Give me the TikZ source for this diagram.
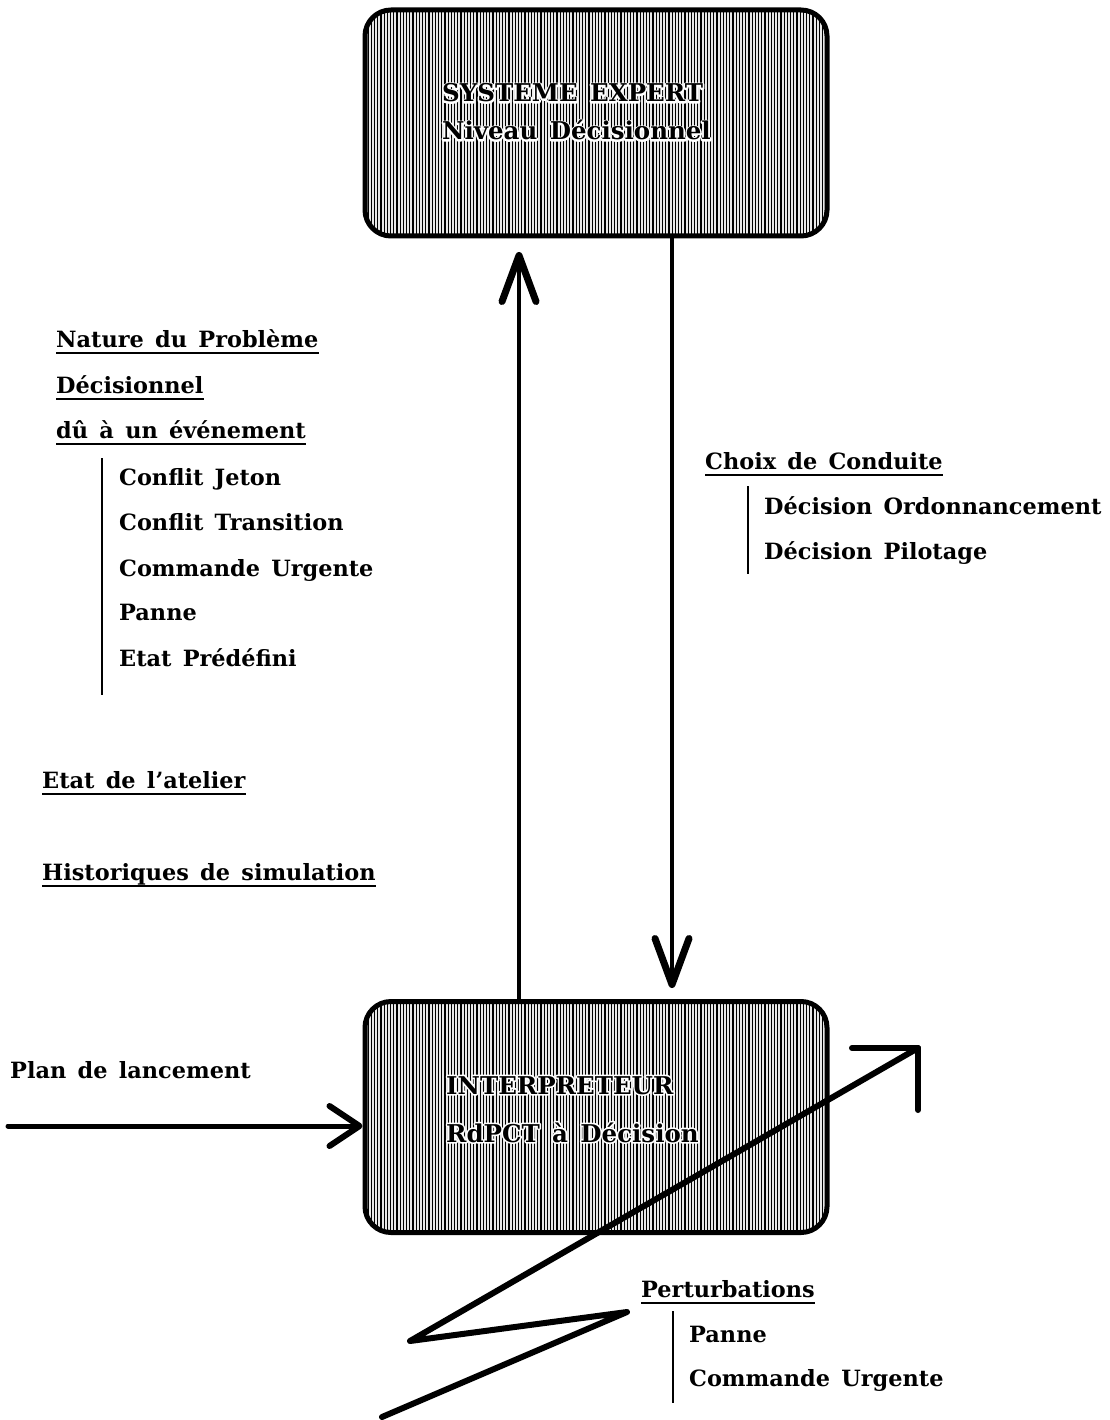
\documentclass[tikz,border=0pt]{standalone}
\usepackage{fontspec}
\setmainfont{DejaVu Serif}[WordSpace=1.45]
\usetikzlibrary{arrows.meta}

% glyph outlines stroked thickly in white: the halo laid under box titles
\newcommand\halo[1]{%
  \special{pdf:literal direct 1 Tr 3.2 w 1 j 1 1 1 RG}#1%
  \special{pdf:literal direct 0 Tr 0 G}}
% a box title: white halo first, then the black text over it
\newcommand\boxtitle[3]{%
  \node[boxtxt, anchor=base west] at (#2) {\halo{#3}};
  \node[boxtxt, anchor=base west] (#1) at (#2) {#3};}

\begin{document}
\begin{tikzpicture}[x=1pt, y=-1pt,
  lbl/.style={inner sep=0pt, font=\fontsize{22.4}{26}\selectfont\bfseries},
  boxtxt/.style={inner sep=0pt, font=\fontsize{24.5}{28}\selectfont\bfseries},
  uline/.style={line width=2.6pt},
  bar/.style={line width=1.8pt},
  hatchbox/.style={draw, line width=5pt, rounded corners=26pt, fill=gray!18,
    minimum width=462pt, minimum height=226pt, inner sep=0pt,
    path picture={
      \foreach \i in {0,...,150}
        \draw[line width=1.2pt]
          ([xshift=\i*3.2pt]path picture bounding box.south west) --
          ([xshift=\i*3.2pt]path picture bounding box.north west);}},
  shaft/.style={line width=4pt},
  vtip/.style={-{Straight Barb[length=46pt, width=34pt, line width=7pt, round]}},
  htip/.style={-{Straight Barb[length=30pt, width=40pt, line width=6pt, round]}},
  zig/.style={line width=6pt, line cap=round, line join=round}]

\useasboundingbox (0,0) rectangle (1109,1420);

% the two processing blocks
\node[hatchbox] (expert) at (596,123) {};
\node[hatchbox, minimum height=231pt] (interp) at (596,1117) {};

\boxtitle{t1}{442,102}{SYSTEME EXPERT}
\boxtitle{t2}{442,140}{Niveau Décisionnel}
\boxtitle{t3}{446,1094}{INTERPRETEUR}
\boxtitle{t4}{446,1142}{RdPCT à Décision}

% exchanges between the blocks
\coordinate (up) at (519,252);
\coordinate (dn) at (672,988);
\draw[shaft, vtip] (interp.north -| up) -- (up);
\draw[shaft, vtip] (expert.south -| dn) -- (dn);

% launch plan input
\coordinate (plan) at (8,1126);
\draw[line width=5pt, line cap=round, htip] (plan) -- (interp.west |- plan);
\node[lbl, anchor=base west] (pl) at (10,1078) {Plan de lancement};

% disturbance flash
\coordinate (z0) at (382,1417);
\coordinate (z1) at (627,1312);
\coordinate (z2) at (410,1341);
\coordinate (z3) at (918,1048);
\draw[zig] (z0) -- (z1) -- (z2) -- (z3);
\draw[zig] ([xshift=-66pt]z3) -- (z3) -- ([yshift=-62pt]z3);

% left-hand annotations
\node[lbl, anchor=base west] (a1) at (56,347) {Nature du Problème};
\node[lbl, anchor=base west] (a2) at (56,393) {Décisionnel};
\node[lbl, anchor=base west] (a3) at (56,438) {dû à un événement};
\foreach \n in {a1,a2,a3}
  \draw[uline] ([yshift=-6pt]\n.base west) -- ([yshift=-6pt]\n.base east);
\draw[bar] (102,458) -- (102,695);
\node[lbl, anchor=base west] (b1) at (119,485) {Conflit Jeton};
\node[lbl, anchor=base west] (b2) at (119,530) {Conflit Transition};
\node[lbl, anchor=base west] (b3) at (119,576) {Commande Urgente};
\node[lbl, anchor=base west] (b4) at (119,620) {Panne};
\node[lbl, anchor=base west] (b5) at (119,666) {Etat Prédéfini};

\node[lbl, anchor=base west] (c1) at (42,788) {Etat de l'atelier};
\node[lbl, anchor=base west] (c2) at (42,880) {Historiques de simulation};
\foreach \n in {c1,c2}
  \draw[uline] ([yshift=-6pt]\n.base west) -- ([yshift=-6pt]\n.base east);

% right-hand annotations
\node[lbl, anchor=base west] (d1) at (705,469) {Choix de Conduite};
\draw[uline] ([yshift=-6pt]d1.base west) -- ([yshift=-6pt]d1.base east);
\draw[bar] (748,486) -- (748,574);
\node[lbl, anchor=base west] (d2) at (764,514) {Décision Ordonnancement};
\node[lbl, anchor=base west] (d3) at (764,559) {Décision Pilotage};

\node[lbl, anchor=base west] (e1) at (641,1297) {Perturbations};
\draw[uline] ([yshift=-6pt]e1.base west) -- ([yshift=-6pt]e1.base east);
\draw[bar] (673,1311) -- (673,1403);
\node[lbl, anchor=base west] (e2) at (689,1342) {Panne};
\node[lbl, anchor=base west] (e3) at (689,1386) {Commande Urgente};
\end{tikzpicture}
\end{document}
